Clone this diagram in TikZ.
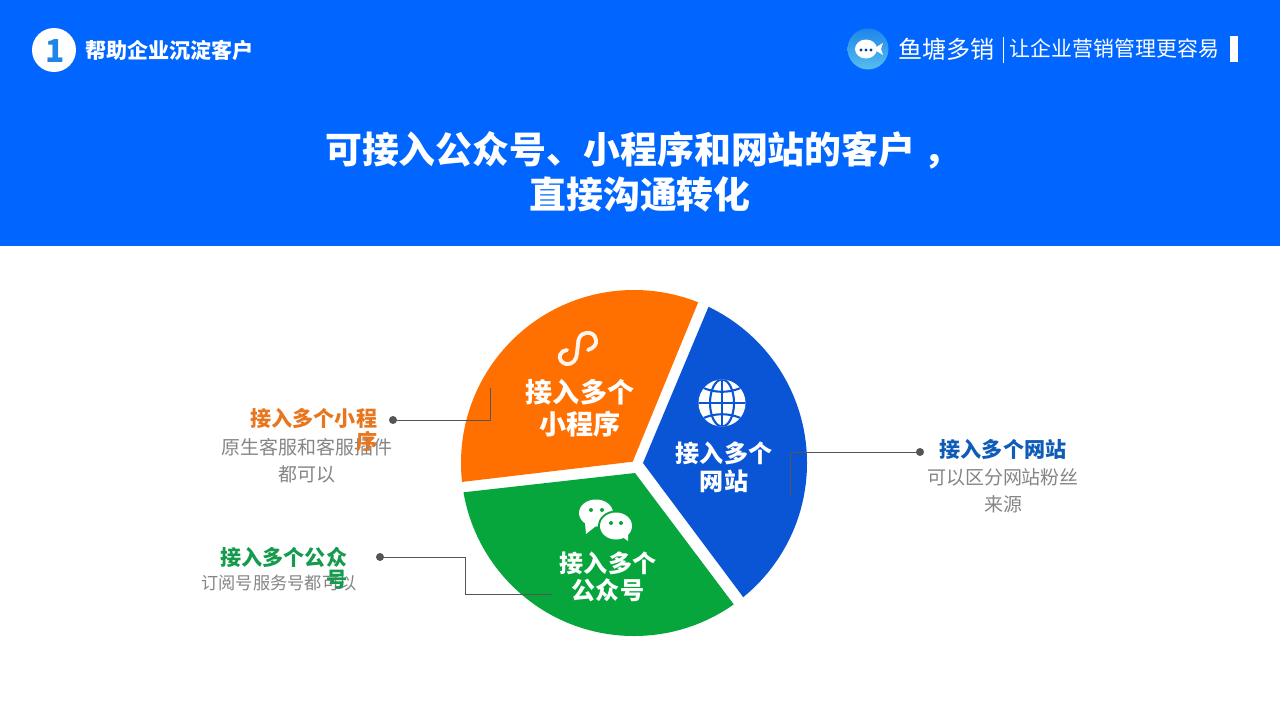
\documentclass[tikz,border=0pt]{standalone}
\usepackage{fontspec}
\usepackage{xcolor}
\setmainfont{Noto Sans CJK SC}
\definecolor{bandblue}{HTML}{0066FF}
\definecolor{pieorange}{HTML}{FF7000}
\definecolor{pieblue}{HTML}{0A55D6}
\definecolor{piegreen}{HTML}{07A63C}
\definecolor{leadgray}{HTML}{555555}
\definecolor{notegray}{HTML}{858585}
\definecolor{tagorange}{HTML}{E8761E}
\definecolor{taggreen}{HTML}{159A4E}
\definecolor{tagblue}{HTML}{0F5CB8}
\definecolor{logotop}{HTML}{1F86E8}
\definecolor{logolow}{HTML}{56BDF0}
\tikzset{
	headtext/.style={text=white,inner sep=0pt,font=\bfseries},
	pietext/.style={text=white,inner sep=0pt,font=\bfseries\fontsize{13.7}{16}\selectfont},
	leadline/.style={draw=leadgray,line width=0.4pt},
	leaddot/.style={circle,fill=leadgray,inner sep=0pt,minimum size=0.16cm},
	notetext/.style={text=notegray,inner sep=0pt,font=\fontsize{10.8}{13}\selectfont},
	picktext/.style={inner sep=0pt,font=\bfseries\fontsize{12}{14}\selectfont}
}
\begin{document}
\begin{tikzpicture}[x=0.02cm,y=-0.02cm]
	\useasboundingbox (0,0) rectangle (1280,720);
	\fill[white] (0,0) rectangle (1280,720);
	\fill[bandblue] (0,0) rectangle (1280,246);
	% header
	\node[circle,fill=white,inner sep=0pt,minimum size=0.88cm] (badge) at (54,50) {};
	\node[text=logotop,inner sep=0pt,font=\bfseries\fontsize{18}{22}\selectfont] (one) at (55,51) {1};
	\node[headtext,anchor=west,font=\bfseries\fontsize{12}{14}\selectfont] (topic) at (85,50) {帮助企业沉淀客户};
	\shade[top color=logotop,bottom color=logolow] (868,49) circle (20.5);
	\fill[white] (866,49) ellipse (11 and 9.5);
	\fill[white] (873,49) -- (883,43) -- (881,49) -- (883,55) -- cycle;
	\foreach \dotx in {861,866,871}
		\fill[pieblue!70!black] (\dotx,50) circle (1.6);
	\node[headtext,anchor=west,font=\fontsize{13.7}{16}\selectfont] (brand) at (898,49) {鱼塘多销};
	\draw[white,line width=0.5pt] (1003,37) -- (1003,63);
	\node[headtext,anchor=west,font=\fontsize{11.9}{14}\selectfont] (slogan) at (1009.5,49) {让企业营销管理更容易};
	\fill[white] (1230,36) rectangle (1238,62);
	\node[headtext,font=\bfseries\fontsize{21}{25}\selectfont] (titleA) at (643,150) {可接入公众号、小程序和网站的客户 ，};
	\node[headtext,font=\bfseries\fontsize{21}{25}\selectfont] (titleB) at (640,195) {直接沟通转化};
	% pie
	\begin{scope}
		\clip (634,463) circle (173);
		\fill[pieorange] (632.7,461.7) -- (411,488) -- (411,255) -- (717.6,255) -- cycle;
		\fill[pieblue] (643,463) -- (727.5,261.5) -- (830,261.5) -- (830,637) -- (773,637) -- cycle;
		\fill[piegreen] (635,473) -- (413,498) -- (413,660) -- (762,660) -- (762,642) -- cycle;
	\end{scope}
	% icons
	\draw[white!92!pieorange,line width=2.2pt,line cap=round] (588,350) .. controls (594,348) and (597,344) .. (596,340) .. controls (595,334) and (590,332) .. (586,333) .. controls (580,334) and (578,339) .. (578,344) -- (577,353) .. controls (577,360) and (572,365) .. (566,364) .. controls (561,363) and (559,358) .. (560,355) .. controls (561,352) and (564,350) .. (567,350);
	\fill[white] (722,403) circle (23.5);
	\begin{scope}
		\clip (722,403) circle (23.5);
		\draw[pieblue,line width=1.2pt] (722,378) -- (722,428) (696,403) -- (748,403);
		\draw[pieblue,line width=1.2pt] (698,385) .. controls (712,394) and (732,394) .. (746,385);
		\draw[pieblue,line width=1.2pt] (698,421) .. controls (712,412) and (732,412) .. (746,421);
		\draw[pieblue,line width=1.2pt] (722,403) ellipse (12 and 23.5);
	\end{scope}
	\fill[white] (596,513) ellipse (17 and 13.5);
	\fill[white] (585,523) -- (586,534) -- (596,526) -- cycle;
	\fill[piegreen] (616,526) ellipse (18 and 15.5);
	\fill[white] (616,526) ellipse (16 and 13.5);
	\fill[white] (621,536) -- (628,541) -- (628,532) -- cycle;
	\foreach \eyex/\eyey in {591/510,602/510,611/523,621/523}
		\fill[piegreen] (\eyex,\eyey) circle (2);
	\node[pietext,font=\bfseries\fontsize{15.4}{18}\selectfont] (pickA) at (580,392) {接入多个};
	\node[pietext,font=\bfseries\fontsize{15.4}{18}\selectfont] (pickB) at (580,424) {小程序};
	\node[pietext] (siteA) at (724,453) {接入多个};
	\node[pietext] (siteB) at (724,481) {网站};
	\node[pietext] (pubA) at (608,563) {接入多个};
	\node[pietext] (pubB) at (608,590) {公众号};
	% left and right notes
	\node[notetext] (minitxtA) at (307,447) {原生客服和客服插件};
	\node[notetext] (minitxtB) at (307,474) {都可以};
	\node[picktext,text=tagorange,anchor=east] (minitagA) at (377.5,418) {接入多个小程};
	\node[picktext,text=tagorange,anchor=east] (minitagB) at (377.5,441) {序};
	\node[notetext,font=\fontsize{9.8}{12}\selectfont] (pubtxt) at (279,583) {订阅号服务号都可以};
	\node[picktext,text=taggreen,anchor=east] (pubtagA) at (347.5,557) {接入多个公众};
	\node[picktext,text=taggreen,anchor=east] (pubtagB) at (347.5,580) {号};
	\node[picktext,text=tagblue] (sitetag) at (1003,449) {接入多个网站};
	\node[notetext] (sitetxtA) at (1003,477) {可以区分网站粉丝};
	\node[notetext] (sitetxtB) at (1003,504) {来源};
	% leaders
	\node[leaddot] (minidot) at (393,420) {};
	\coordinate (miniend) at (490,388);
	\draw[leadline] (minidot.center) -| (miniend);
	\node[leaddot] (pubdot) at (380,557) {};
	\coordinate (pubbend) at (465,594);
	\coordinate (pubend) at (552,594);
	\draw[leadline] (pubdot.center) -| (pubbend) -- (pubend);
	\node[leaddot] (sitedot) at (920,452) {};
	\coordinate (siteend) at (790,496);
	\draw[leadline] (sitedot.center) -| (siteend);
\end{tikzpicture}
\end{document}
